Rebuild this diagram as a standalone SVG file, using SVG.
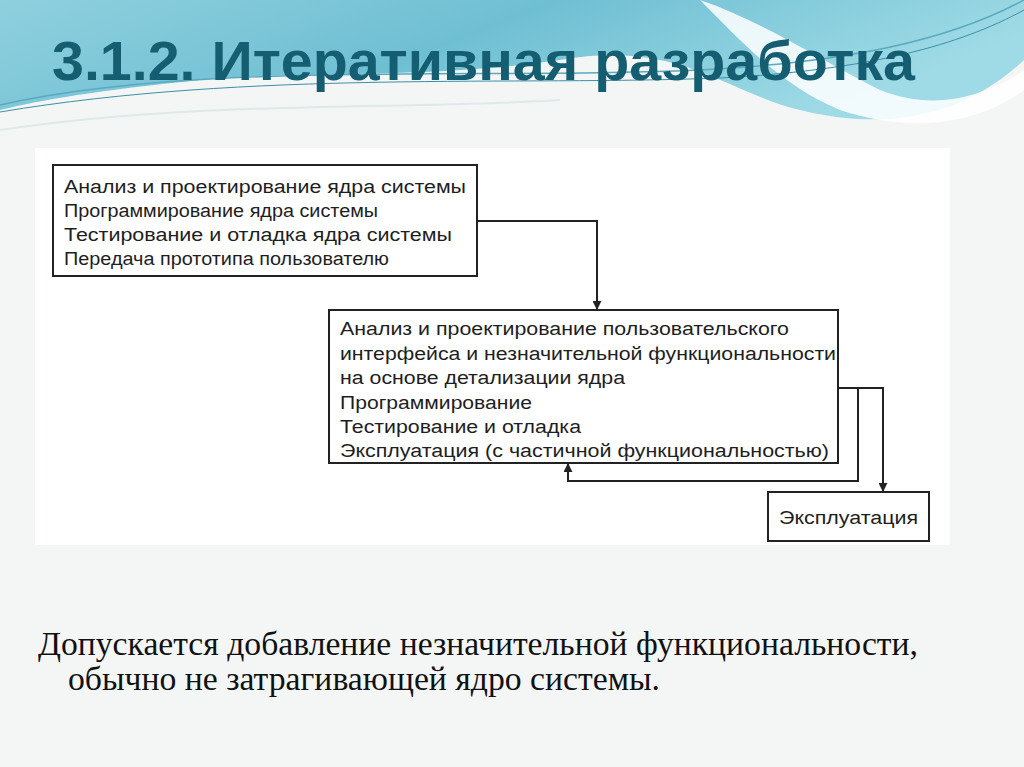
<svg xmlns="http://www.w3.org/2000/svg" width="1024" height="767" viewBox="0 0 1024 767">
<defs>
<linearGradient id="sky" x1="0" y1="0" x2="1" y2="0.3">
<stop offset="0" stop-color="#8fd0de"/>
<stop offset="0.5" stop-color="#6fbfd3"/>
<stop offset="1" stop-color="#9fdbe6"/>
</linearGradient>
<marker id="arr" viewBox="0 0 10 10" refX="9" refY="5" markerWidth="9" markerHeight="9" orient="auto-start-reverse" markerUnits="userSpaceOnUse">
<path d="M0,0 L10,5 L0,10 z" fill="#222"/>
</marker>
<style>
.box{fill:#fff;stroke:#222;stroke-width:2}
.bt{font-family:"Liberation Sans",Arial,sans-serif;font-size:18px;fill:#1e1e1e}
.con{fill:none;stroke:#222;stroke-width:2}
.title{font-family:"Liberation Sans",Arial,sans-serif;font-weight:bold;font-size:56px;fill:#155d71}
.body{font-family:"Liberation Serif","Times New Roman",serif;font-size:33px;fill:#111}
</style>
</defs>
<rect width="1024" height="767" fill="#f4f6f6"/>
<path d="M0,0 H1024 V60 C960,120 880,130 800,110 C720,90 680,40 560,60 C420,80 300,70 200,80 C100,90 40,100 0,110 Z" fill="url(#sky)"/>
<path d="M700,0 C760,20 820,60 880,90 C930,110 980,100 1024,70 V90 C970,130 900,130 840,110 C780,85 740,40 700,0 Z" fill="#ffffff" opacity="0.85"/>
<path d="M0,105 C200,60 500,80 700,70 C850,62 950,40 1024,0" fill="none" stroke="#5aa9be" stroke-width="1.5"/>
<path d="M0,112 C250,70 520,86 720,78 C870,70 960,45 1024,10" fill="none" stroke="#3e8fa6" stroke-width="1"/>
<path d="M0,130 C200,100 400,110 560,100" fill="none" stroke="#dfe9ea" stroke-width="2"/>
<rect x="35" y="148" width="915" height="397" fill="#ffffff"/>
<text class="title" x="52" y="80" textLength="863" lengthAdjust="spacingAndGlyphs">3.1.2. Итеративная разработка</text>
<g id="connectors">
<polyline class="con" points="477,221 597,221 597,309" marker-end="url(#arr)"/>
<polyline class="con" points="838,388 883,388 883,491" marker-end="url(#arr)"/>
<polyline class="con" points="838,388 858,388 858,481 568,481 568,464" marker-end="url(#arr)"/>
</g>
<g id="core">
<rect class="box" x="53" y="165" width="424" height="111"/>
<text class="bt" x="64" y="193" textLength="402" lengthAdjust="spacingAndGlyphs">Анализ и проектирование ядра системы</text>
<text class="bt" x="64" y="217" textLength="314" lengthAdjust="spacingAndGlyphs">Программирование ядра системы</text>
<text class="bt" x="64" y="241" textLength="388" lengthAdjust="spacingAndGlyphs">Тестирование и отладка ядра системы</text>
<text class="bt" x="64" y="265" textLength="325" lengthAdjust="spacingAndGlyphs">Передача прототипа пользователю</text>
</g>
<g id="iteration">
<rect class="box" x="329" y="310" width="509" height="153"/>
<text class="bt" x="340" y="335" textLength="449" lengthAdjust="spacingAndGlyphs">Анализ и проектирование пользовательского</text>
<text class="bt" x="340" y="360" textLength="496" lengthAdjust="spacingAndGlyphs">интерфейса и незначительной функциональности</text>
<text class="bt" x="340" y="384" textLength="285" lengthAdjust="spacingAndGlyphs">на основе детализации ядра</text>
<text class="bt" x="340" y="409" textLength="192" lengthAdjust="spacingAndGlyphs">Программирование</text>
<text class="bt" x="340" y="433" textLength="241" lengthAdjust="spacingAndGlyphs">Тестирование и отладка</text>
<text class="bt" x="340" y="457" textLength="489" lengthAdjust="spacingAndGlyphs">Эксплуатация (с частичной функциональностью)</text>
</g>
<g id="operation">
<rect class="box" x="768" y="492" width="161" height="49"/>
<text class="bt" x="779" y="524" textLength="139" lengthAdjust="spacingAndGlyphs">Эксплуатация</text>
</g>
<text class="body" x="38" y="655" textLength="880" lengthAdjust="spacingAndGlyphs">Допускается добавление незначительной функциональности,</text>
<text class="body" x="68" y="690" textLength="592" lengthAdjust="spacingAndGlyphs">обычно не затрагивающей ядро системы.</text>
</svg>
